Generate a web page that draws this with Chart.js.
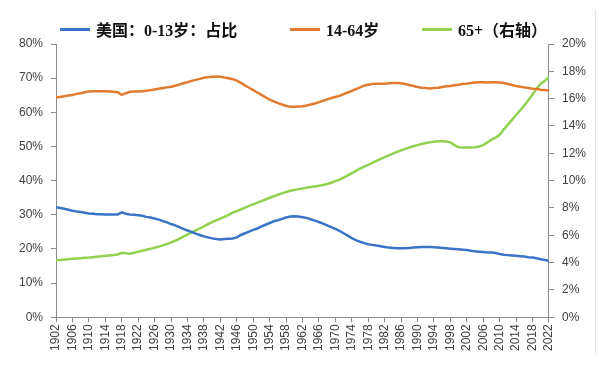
<!DOCTYPE html>
<html>
<head>
<meta charset="utf-8">
<script src="https://cdn.jsdelivr.net/npm/chart.js@4/dist/chart.umd.min.js"></script>
<style>
  body { margin: 0; background: #fff; }
  #wrap { position: relative; width: 599px; height: 373px; }
  #edge { position: absolute; left: 595px; top: 10px; width: 1px; height: 345px; background: #e6e6e6; }
  .item { position: absolute; top: 19px; height: 20px; display: flex; align-items: center;
          font: bold 16px 'Liberation Serif', 'Noto Sans CJK SC', serif; color: #111; white-space: nowrap; }
  .item i { display: inline-block; width: 30px; height: 3px; margin-right: 6px; }
</style>
</head>
<body>
<div id="wrap">
  <canvas id="popChart" width="599" height="373"></canvas>
  <div id="legend"></div>
  <div id="edge"></div>
</div>
<script>
// years 1902 - 2022
const years = [];
for (let y = 1902; y <= 2022; y++) years.push(y);

// 0-13岁 占比 (%)
const child = [
  32.2, 32.0, 31.8, 31.5, 31.2, 31.0, 30.8, 30.6, 30.4, 30.3,
  30.2, 30.2, 30.1, 30.1, 30.1, 30.1, 30.7, 30.3, 30.1, 30.0,
  29.9, 29.7, 29.4, 29.2, 28.9, 28.6, 28.2, 27.8, 27.3, 26.9,
  26.4, 25.9, 25.4, 25.0, 24.5, 24.1, 23.7, 23.4, 23.1, 22.9,
  22.8, 22.9, 23.0, 23.1, 23.4, 24.1, 24.6, 25.1, 25.6, 26.0,
  26.6, 27.1, 27.6, 28.1, 28.4, 28.8, 29.2, 29.5, 29.6, 29.5,
  29.3, 29.1, 28.7, 28.3, 27.9, 27.4, 26.9, 26.4, 25.9, 25.3,
  24.6, 23.9, 23.2, 22.6, 22.1, 21.7, 21.4, 21.2, 21.0, 20.8,
  20.6, 20.4, 20.3, 20.2, 20.2, 20.2, 20.3, 20.4, 20.5, 20.6,
  20.6, 20.6, 20.5, 20.4, 20.3, 20.2, 20.1, 20.0, 19.9, 19.8,
  19.7, 19.5, 19.3, 19.2, 19.1, 19.0, 19.0, 18.8, 18.5, 18.3,
  18.2, 18.1, 18.0, 17.9, 17.8, 17.6, 17.5, 17.3, 17.0, 16.8,
  16.5
];

// 14-64岁 (%)
const working = [
  64.3, 64.5, 64.7, 64.9, 65.1, 65.4, 65.6, 65.9, 66.1, 66.2,
  66.2, 66.2, 66.2, 66.1, 66.0, 65.9, 65.1, 65.6, 66.0, 66.1,
  66.1, 66.2, 66.3, 66.5, 66.7, 66.9, 67.1, 67.3, 67.5, 67.8,
  68.1, 68.5, 68.8, 69.2, 69.5, 69.8, 70.1, 70.3, 70.4, 70.5,
  70.4, 70.2, 70.0, 69.7, 69.3, 68.6, 67.9, 67.2, 66.5, 65.8,
  65.1, 64.4, 63.7, 63.2, 62.7, 62.3, 61.9, 61.6, 61.6, 61.7,
  61.8, 62.0, 62.3, 62.6, 63.0, 63.4, 63.8, 64.2, 64.5, 64.8,
  65.3, 65.8, 66.3, 66.8, 67.3, 67.8, 68.1, 68.3, 68.4, 68.4,
  68.4, 68.5, 68.6, 68.6, 68.5, 68.3, 68.0, 67.7, 67.4, 67.2,
  67.1, 67.0, 67.1, 67.2, 67.4, 67.6, 67.7, 67.9, 68.1, 68.3,
  68.4, 68.6, 68.7, 68.8, 68.8, 68.7, 68.8, 68.8, 68.7, 68.6,
  68.3, 68.0, 67.7, 67.5, 67.3, 67.1, 66.9, 66.8, 66.6, 66.5,
  66.4
];

// 65+ (%), right axis
const elderly = [
  4.18, 4.20, 4.23, 4.25, 4.28, 4.30, 4.32, 4.35, 4.37, 4.40,
  4.43, 4.46, 4.50, 4.53, 4.56, 4.60, 4.72, 4.68, 4.66, 4.72,
  4.80, 4.87, 4.94, 5.01, 5.09, 5.17, 5.26, 5.36, 5.48, 5.60,
  5.74, 5.90, 6.05, 6.20, 6.36, 6.50, 6.66, 6.82, 6.96, 7.10,
  7.22, 7.35, 7.50, 7.66, 7.78, 7.90, 8.02, 8.15, 8.27, 8.39,
  8.50, 8.62, 8.75, 8.86, 8.97, 9.07, 9.17, 9.26, 9.32, 9.38,
  9.43, 9.48, 9.53, 9.58, 9.62, 9.68, 9.76, 9.85, 9.96, 10.08,
  10.22, 10.38, 10.55, 10.72, 10.88, 11.02, 11.15, 11.30, 11.45, 11.60,
  11.72, 11.85, 11.98, 12.10, 12.22, 12.33, 12.43, 12.52, 12.60, 12.68,
  12.75, 12.80, 12.85, 12.88, 12.88, 12.86, 12.80, 12.60, 12.45, 12.42,
  12.42, 12.43, 12.45, 12.50, 12.60, 12.80, 13.00, 13.15, 13.35, 13.75,
  14.10, 14.45, 14.80, 15.15, 15.50, 15.90, 16.30, 16.75, 17.10, 17.30,
  17.60
];

const toPoints = (arr) => arr.map((v, i) => ({ x: years[i], y: v }));

const axisColor = "#8c8c8c";
const tickFont = { family: "'Liberation Sans', Arial, sans-serif", size: 12 };

const ctx = document.getElementById("popChart");

const chart = new Chart(ctx, {
  type: "line",
  data: {
    datasets: [
      {
        label: "美国：0-13岁：占比",
        data: toPoints(child),
        borderColor: "#3b74c6",
        borderWidth: 2.5,
        yAxisID: "y",
      },
      {
        label: "14-64岁",
        data: toPoints(working),
        borderColor: "#e07b30",
        borderWidth: 2.5,
        yAxisID: "y",
      },
      {
        label: "65+（右轴）",
        data: toPoints(elderly),
        borderColor: "#92d050",
        borderWidth: 2.5,
        yAxisID: "y1",
      },
    ],
  },
  options: {
    responsive: false,
    animation: false,
    elements: { point: { radius: 0 }, line: { tension: 0 } },
    layout: { padding: { left: 11, right: 5, top: 44, bottom: 20 } },
    plugins: {
      tooltip: { enabled: false },
      legend: { display: false },
    },
    scales: {
      x: {
        type: "linear",
        min: 1902,
        max: 2022,
        offset: false,
        grid: { drawOnChartArea: false, color: axisColor, tickLength: 5 },
        border: { color: axisColor },
        ticks: {
          stepSize: 4,
          autoSkip: false,
          maxTicksLimit: 40,
          minRotation: 90,
          maxRotation: 90,
          padding: 2,
          color: "#404040",
          font: tickFont,
          callback: (v) => String(v),
        },
      },
      y: {
        position: "left",
        min: 0,
        max: 80,
        grid: { drawOnChartArea: false, color: axisColor, tickLength: 5 },
        border: { color: axisColor },
        ticks: {
          stepSize: 10,
          padding: 8,
          color: "#404040",
          font: tickFont,
          callback: (v) => v + "%",
        },
      },
      y1: {
        position: "right",
        min: 0,
        max: 20,
        grid: { drawOnChartArea: false, color: axisColor, tickLength: 5 },
        border: { color: axisColor },
        ticks: {
          stepSize: 2,
          padding: 8,
          color: "#404040",
          font: tickFont,
          callback: (v) => v + "%",
        },
      },
    },
  },
});

// legend drawn as html, positions match the original picture
const legendLeft = [60, 290, 422];
const legendBox = document.getElementById("legend");
chart.data.datasets.forEach((ds, i) => {
  const item = document.createElement("div");
  item.className = "item";
  item.style.left = legendLeft[i] + "px";
  item.innerHTML = '<i style="background:' + ds.borderColor + '"></i>' + ds.label;
  legendBox.appendChild(item);
});
</script>
</body>
</html>
